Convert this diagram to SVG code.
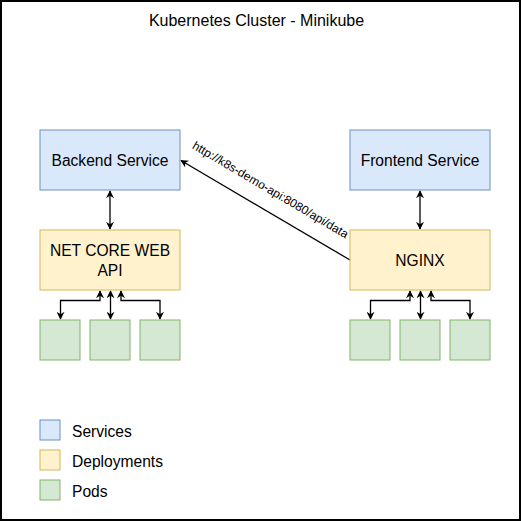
<svg xmlns="http://www.w3.org/2000/svg" width="521" height="521" viewBox="0 0 521 521">
<style>
  text { font-family: "Liberation Sans", Arial, sans-serif; fill: #000; }
  .lbl { font-size: 15.6px; text-anchor: middle; }
  .leg { font-size: 15.6px; }
  .svc { fill: #dae8fc; stroke: #6c8ebf; stroke-width: 1; }
  .dep { fill: #fff2cc; stroke: #d6b656; stroke-width: 1; }
  .pod { fill: #d5e8d4; stroke: #82b366; stroke-width: 1; }
  .edge { fill: none; stroke: #000; stroke-width: 1.3; }
</style>
<defs>
  <marker id="arr" viewBox="0 0 10 10" refX="9" refY="5" markerWidth="8" markerHeight="8" markerUnits="userSpaceOnUse" orient="auto-start-reverse">
    <path d="M0,0 L10,5 L0,10 L3,5 z" fill="#000"/>
  </marker>
</defs>
<rect x="0" y="0" width="521" height="521" fill="#fff"/>
<rect x="1" y="1" width="519" height="519" fill="none" stroke="#000" stroke-width="2"/>
<text x="256.5" y="26" font-size="16" text-anchor="middle">Kubernetes Cluster - Minikube</text>

<g id="connectors">
  <line class="edge" x1="110" y1="191" x2="110" y2="229" marker-start="url(#arr)" marker-end="url(#arr)"/>
  <line class="edge" x1="420" y1="191" x2="420" y2="229" marker-start="url(#arr)" marker-end="url(#arr)"/>
  <path class="edge" d="M100,291 L100,300.5 L60.5,300.5 L60.5,319" marker-start="url(#arr)" marker-end="url(#arr)"/>
  <line class="edge" x1="110.5" y1="291" x2="110.5" y2="319" marker-start="url(#arr)" marker-end="url(#arr)"/>
  <path class="edge" d="M121,291 L121,300.5 L160,300.5 L160,319" marker-start="url(#arr)" marker-end="url(#arr)"/>
  <path class="edge" d="M410,291 L410,300.5 L370.5,300.5 L370.5,319" marker-start="url(#arr)" marker-end="url(#arr)"/>
  <line class="edge" x1="420.5" y1="291" x2="420.5" y2="319" marker-start="url(#arr)" marker-end="url(#arr)"/>
  <path class="edge" d="M431,291 L431,300.5 L470,300.5 L470,319" marker-start="url(#arr)" marker-end="url(#arr)"/>
  <line class="edge" stroke-width="1" x1="350" y1="260" x2="181" y2="160.5" marker-end="url(#arr)"/>
  <text font-size="12" text-anchor="middle" transform="translate(270.5,189.8) rotate(30.5)" y="4">http://k8s-demo-api:8080/api/data</text>
</g>

<g id="backend-service">
  <rect class="svc" x="40" y="130" width="140" height="60"/>
  <text class="lbl" x="110" y="165.5">Backend Service</text>
</g>
<g id="frontend-service">
  <rect class="svc" x="350" y="130" width="140" height="60"/>
  <text class="lbl" x="420" y="165.5">Frontend Service</text>
</g>
<g id="netcore-api">
  <rect class="dep" x="40" y="230" width="140" height="60"/>
  <text class="lbl" x="110" y="255.5">NET CORE WEB</text>
  <text class="lbl" x="110" y="275.5">API</text>
</g>
<g id="nginx">
  <rect class="dep" x="350" y="230" width="140" height="60"/>
  <text class="lbl" x="420" y="265.5">NGINX</text>
</g>
<g id="pod-l1"><rect class="pod" x="40" y="320" width="40" height="40"/></g>
<g id="pod-l2"><rect class="pod" x="90" y="320" width="40" height="40"/></g>
<g id="pod-l3"><rect class="pod" x="140" y="320" width="40" height="40"/></g>
<g id="pod-r1"><rect class="pod" x="350" y="320" width="40" height="40"/></g>
<g id="pod-r2"><rect class="pod" x="400" y="320" width="40" height="40"/></g>
<g id="pod-r3"><rect class="pod" x="450" y="320" width="40" height="40"/></g>

<g id="legend-services">
  <rect class="svc" x="40" y="420" width="20" height="20"/>
  <text class="leg" x="72" y="437">Services</text>
</g>
<g id="legend-deployments">
  <rect class="dep" x="40" y="450" width="20" height="20"/>
  <text class="leg" x="72" y="467">Deployments</text>
</g>
<g id="legend-pods">
  <rect class="pod" x="40" y="480" width="20" height="20"/>
  <text class="leg" x="72" y="497">Pods</text>
</g>
</svg>
